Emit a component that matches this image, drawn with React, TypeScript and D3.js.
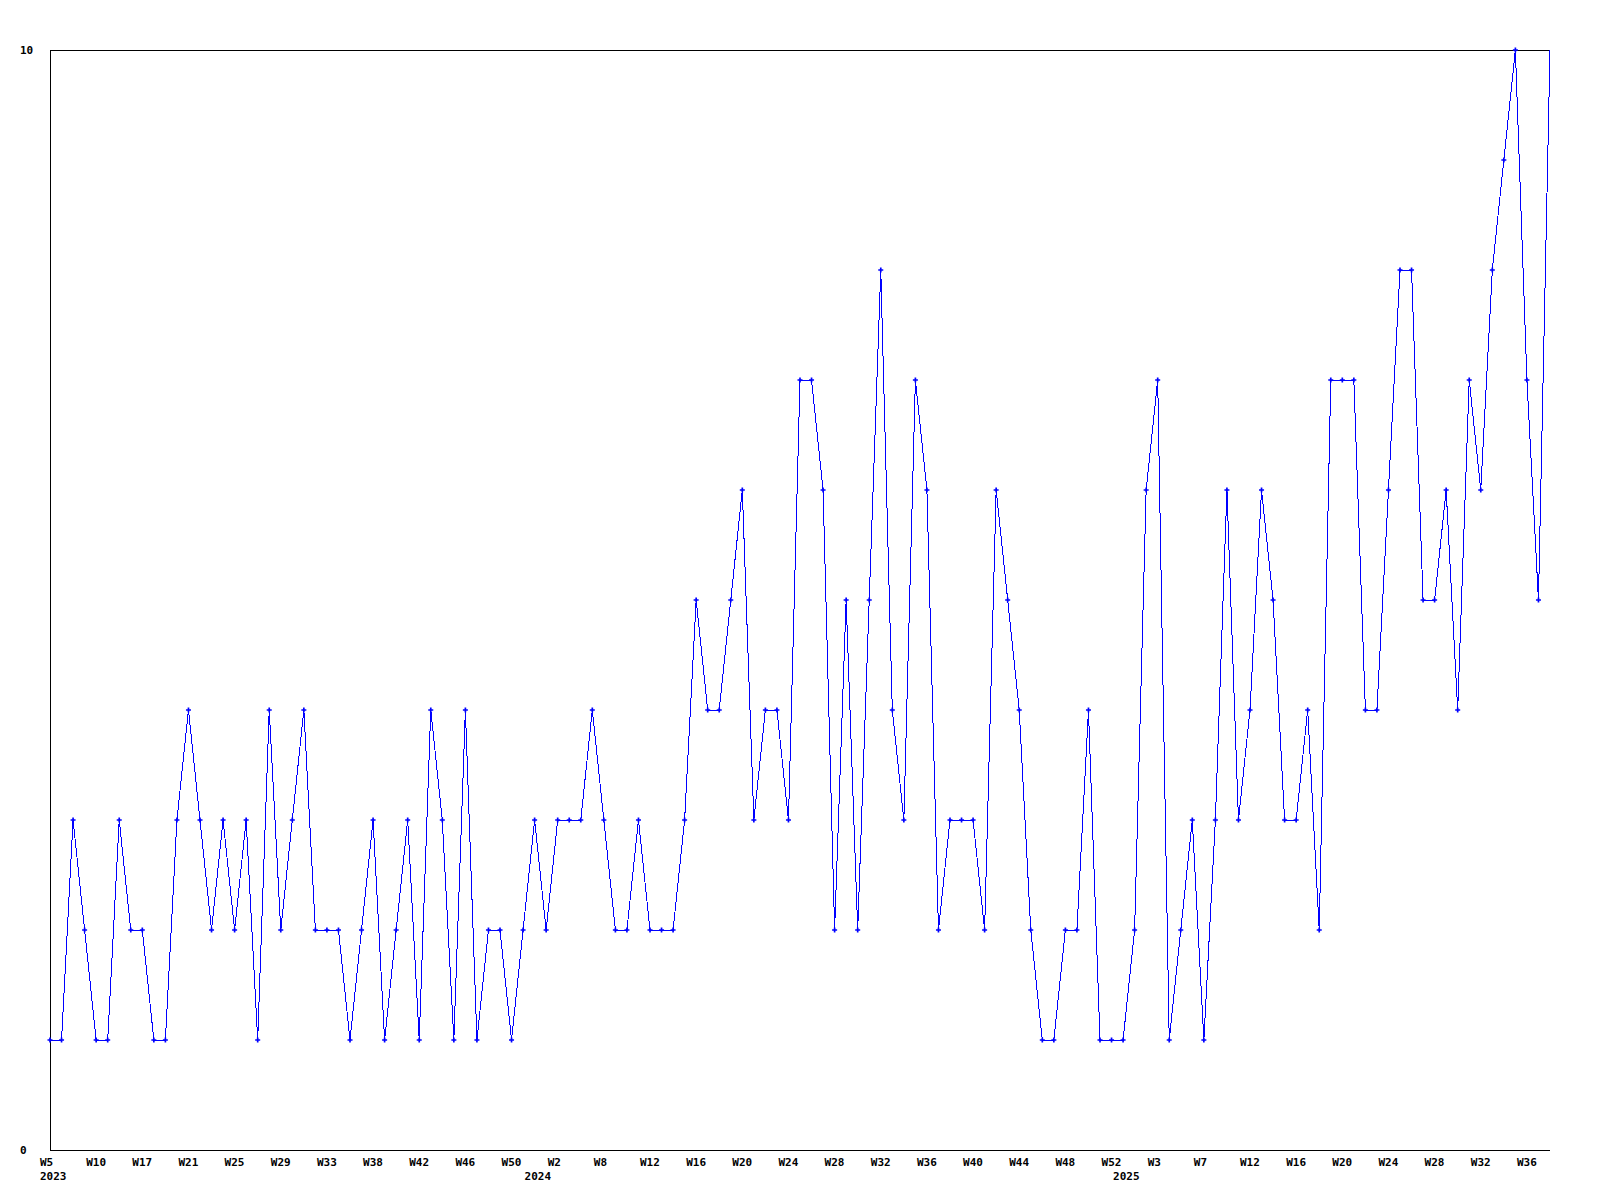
import React from "react";
import * as d3 from "d3";

// weekly values, 2023 W5 .. 2025 W38
const values = [
  1, 1, 3, 2, 1, 1, 3, 2, 2, 1, 1, 3, 4, 3, 2, 3, 2, 3, 1, 4,
  2, 3, 4, 2, 2, 2, 1, 2, 3, 1, 2, 3, 1, 4, 3, 1, 4, 1, 2, 2,
  1, 2, 3, 2, 3, 3, 3, 4, 3, 2, 2, 3, 2, 2, 2, 3, 5, 4, 4, 5,
  6, 3, 4, 4, 3, 7, 7, 6, 2, 5, 2, 5, 8, 4, 3, 7, 6, 2, 3, 3,
  3, 2, 6, 5, 4, 2, 1, 1, 2, 2, 4, 1, 1, 1, 2, 6, 7, 1, 2, 3,
  1, 3, 6, 3, 4, 6, 5, 3, 3, 4, 2, 7, 7, 7, 4, 4, 6, 8, 8, 5,
  5, 6, 4, 7, 6, 8, 9, 10, 7, 5, 10,
];

// one label on every 4th week
const tickLabels = [
  "W5", "W10", "W17", "W21", "W25", "W29", "W33", "W38", "W42", "W46", "W50",
  "W2", "W8", "W12", "W16", "W20", "W24", "W28", "W32", "W36", "W40", "W44", "W48",
  "W52", "W3", "W7", "W12", "W16", "W20", "W24", "W28", "W32", "W36",
];
const tickStep = 4;

const years = ["2023", "2024", "2025"];
const yearStart = [0, 42, 93];

const yTicks = [0, 10];

const width = 1600;
const height = 1200;
const margin = { top: 50, right: 50, bottom: 50, left: 50 };
const font = "'DejaVu Sans Mono', monospace";

const App = () => {
  const x = d3
    .scaleLinear()
    .domain([0, values.length - 1])
    .range([margin.left, width - margin.right]);
  const y = d3
    .scaleLinear()
    .domain([0, 10])
    .range([height - margin.bottom, margin.top]);

  const line = d3
    .line<number>()
    .x((_, i) => x(i))
    .y((d) => y(d));

  const marker = d3.symbol(d3.symbolCross, 14)();

  const x0 = margin.left;
  const x1 = width - margin.right;
  const yBottom = y(0);
  const yTop = y(10);

  return (
    <svg
      width={width}
      height={height}
      style={{ position: "absolute", left: 0, top: 0, background: "#fff" }}
    >
      <rect width={width} height={height} fill="#fff" />
      {/* frame: top, left, bottom */}
      <g stroke="#000" strokeWidth={1} shapeRendering="crispEdges">
        <line x1={x0} x2={x1} y1={yTop} y2={yTop} />
        <line x1={x0} x2={x0} y1={yTop} y2={yBottom} />
        <line x1={x0} x2={x1} y1={yBottom} y2={yBottom} />
      </g>

      <g fontFamily={font} fontWeight="bold" fontSize={11} fill="#000">
        {yTicks.map((t) => (
          <text key={t} x={20} y={y(t) + 4}>
            {t}
          </text>
        ))}
        {tickLabels.map((lab, i) => (
          <text key={i} x={x(i * tickStep) - 10} y={yBottom + 16}>
            {lab}
          </text>
        ))}
        {years.map((yr, i) => (
          <text key={yr} x={x(yearStart[i]) - 10} y={yBottom + 30}>
            {yr}
          </text>
        ))}
      </g>

      <path
        d={line(values) || ""}
        fill="none"
        stroke="#0000ff"
        strokeWidth={1}
        shapeRendering="crispEdges"
      />
      {/* the last (current) week has no marker */}
      <g fill="#0000ff">
        {values.slice(0, -1).map((v, i) => (
          <path key={i} d={marker || ""} transform={`translate(${x(i)},${y(v)})`} />
        ))}
      </g>
    </svg>
  );
};

export default App;
